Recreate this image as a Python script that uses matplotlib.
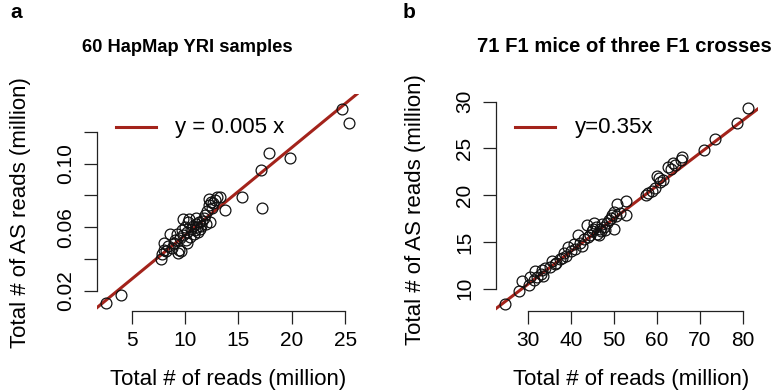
import matplotlib
matplotlib.use("Agg")
import matplotlib.pyplot as plt

plt.rcParams["font.family"] = ["Liberation Sans", "DejaVu Sans"]

# Panel a: 60 HapMap YRI samples (total reads vs allele-specific reads, million)
yri_reads = [2.6, 4.0, 24.7, 25.4, 17.9, 19.8, 17.1, 17.2, 15.3, 13.7, 13.3,
             7.7, 7.8, 8.0, 8.0, 8.2, 8.4, 8.6, 8.8, 9.0, 9.1, 9.3, 9.4, 9.5,
             9.6, 9.7, 9.8, 9.8, 10.0, 10.1, 10.2, 10.3, 10.4, 10.5, 10.6, 10.7,
             10.8, 10.9, 11.0, 11.1, 11.2, 11.3, 11.4, 11.5, 11.6, 11.8, 11.9,
             12.0, 12.1, 12.2, 12.2, 12.3, 12.4, 12.5, 12.6, 12.8, 13.0, 9.2,
             10.2, 11.0]
yri_as_reads = [0.0125, 0.0177, 0.1345, 0.1257, 0.1064, 0.1033, 0.0959, 0.0724,
                0.0787, 0.0708, 0.0787,
                0.040, 0.043, 0.046, 0.050, 0.045, 0.048, 0.056, 0.047, 0.050,
                0.052, 0.044, 0.046, 0.053, 0.045, 0.058, 0.065, 0.055, 0.060,
                0.052, 0.057, 0.063, 0.065, 0.054, 0.059, 0.061, 0.056, 0.058,
                0.062, 0.060, 0.057, 0.063, 0.059, 0.061, 0.064, 0.066, 0.068,
                0.062, 0.070, 0.078, 0.074, 0.063, 0.076, 0.072, 0.075, 0.077,
                0.079, 0.056, 0.050, 0.066]
yri_slope = 0.0055
yri_legend = "y = 0.005 x"

# Panel b: 71 F1 mice
mice_reads = [24.7, 27.8, 28.6, 30.2, 30.5, 31.3, 31.5, 32.0, 33.0, 33.3, 33.5,
              35.0, 35.6, 36.2, 36.6, 37.5, 38.0, 38.3, 38.8, 39.4, 40.0, 40.6,
              41.0, 41.6, 42.0, 42.6, 43.0, 43.7, 44.0, 44.5, 44.8, 45.3, 45.7,
              46.0, 46.4, 46.8, 47.2, 47.6, 48.0, 48.4, 48.8, 49.2, 49.5, 49.9,
              50.1, 50.4, 50.7, 51.5, 52.8, 52.8, 57.5, 58.0, 58.8, 59.5, 60.0,
              60.5, 60.8, 61.5, 62.5, 63.2, 63.7, 64.2, 65.7, 65.8, 71.0, 73.6,
              78.6, 81.2, 34.0, 45.0, 47.0]
mice_as_reads = [8.4, 9.8, 10.8, 10.4, 11.2, 10.9, 11.85, 11.3, 11.6, 12.0, 11.4,
                 12.3, 13.0, 12.6, 12.7, 13.2, 13.3, 13.8, 13.5, 14.5, 14.0, 14.8,
                 14.3, 15.7, 14.9, 14.6, 15.3, 16.8, 15.5, 15.7, 16.2, 17.0, 16.6,
                 15.9, 15.7, 16.4, 16.9, 16.6, 16.3, 17.0, 17.4, 17.6, 17.9, 18.2,
                 16.4, 17.8, 19.1, 18.1, 19.4, 17.9, 20.0, 20.2, 20.5, 20.8, 22.1,
                 21.8, 21.4, 21.6, 23.0, 22.8, 23.4, 23.2, 23.8, 24.1, 24.8, 26.0,
                 27.7, 29.3, 12.2, 16.4, 16.2]
mice_slope = 0.35
mice_legend = "y=0.35x"

W, H = 778, 392
LINE_COLOR = "#a3231b"
TICK_FS = 15
LABEL_FS = 16


def px_axes(x0, y0, x1, y1):
    # axes rectangle from pixel corners (top-left origin)
    return [x0 / W, 1 - y1 / H, (x1 - x0) / W, (y1 - y0) / H]


def r_style(ax, xbounds, ybounds, xticks, yticks, yticklabels):
    for s in ["top", "right"]:
        ax.spines[s].set_visible(False)
    ax.spines["left"].set_bounds(*ybounds)
    ax.spines["bottom"].set_bounds(*xbounds)
    for s in ["left", "bottom"]:
        ax.spines[s].set_linewidth(0.9)
        ax.spines[s].set_color("#222222")
    ax.set_xticks(xticks)
    ax.set_yticks(yticks)
    ax.set_yticklabels(yticklabels, rotation=90, va="center")
    ax.tick_params(length=9.5, width=0.9, color="#222222", labelsize=TICK_FS)
    ax.tick_params(axis="x", pad=5.5)
    ax.tick_params(axis="y", pad=6)


def draw_panel(ax, x, y, slope, xlim):
    xs = [xlim[0], xlim[1]]
    ax.plot(xs, [slope * v for v in xs], color=LINE_COLOR, lw=2.2, zorder=1)
    ax.plot(x, y, "o", mfc="none", mec="#111111", ms=7.8, mew=0.9, zorder=2)
    ax.set_xlim(*xlim)


fig = plt.figure(figsize=(W / 100, H / 100), dpi=100)

ax1 = fig.add_axes(px_axes(96.7, 94, 359.3, 310.5))
draw_panel(ax1, yri_reads, yri_as_reads, yri_slope, (1.72, 26.33))
ax1.set_ylim(0.0078, 0.1436)
r_style(ax1, (5, 25), (0.02, 0.12), [5, 10, 15, 20, 25],
        [0.02, 0.04, 0.06, 0.08, 0.10, 0.12],
        ["0.02", "", "0.06", "", "0.10", ""])

ax2 = fig.add_axes(px_axes(495.5, 100.5, 757.5, 310.5))
draw_panel(ax2, mice_reads, mice_as_reads, mice_slope, (22.4, 83.44))
ax2.set_ylim(7.67, 30.13)
r_style(ax2, (30, 80), (10, 30), [30, 40, 50, 60, 70, 80],
        [10, 15, 20, 25, 30], ["10", "15", "20", "25", "30"])


def ftext(x, y, s, **kw):
    fig.text(x / W, 1 - y / H, s, **kw)


# legends (no frame)
for (lx0, lx1, ly, tx, s) in [(116, 156, 127, 175, yri_legend),
                              (515, 555, 127, 575, mice_legend)]:
    fig.add_artist(plt.Line2D([lx0 / W, lx1 / W], [1 - ly / H, 1 - ly / H],
                              color=LINE_COLOR, lw=2.2))
    ftext(tx, ly + 1, s, fontsize=LABEL_FS, va="center", ha="left")

# panel letters and titles
ftext(10, 12, "a", fontsize=15, fontweight="bold", va="center", ha="left")
ftext(403, 12, "b", fontsize=15, fontweight="bold", va="center", ha="left")
ftext(187, 47, "60 HapMap YRI samples", fontsize=13.2, fontweight="bold",
      va="center", ha="center")
ftext(624, 47, "71 F1 mice of three F1 crosses", fontsize=14.6,
      fontweight="bold", va="center", ha="center")

# axis labels
ftext(228, 380, "Total # of reads (million)", fontsize=LABEL_FS, va="center", ha="center")
ftext(631, 380, "Total # of reads (million)", fontsize=LABEL_FS, va="center", ha="center")
ftext(21, 213, "Total # of AS reads (million)", fontsize=LABEL_FS, va="center",
      ha="center", rotation=90)
ftext(415, 210, "Total # of AS reads (million)", fontsize=LABEL_FS, va="center",
      ha="center", rotation=90)

fig.savefig("out.png", dpi=100)
